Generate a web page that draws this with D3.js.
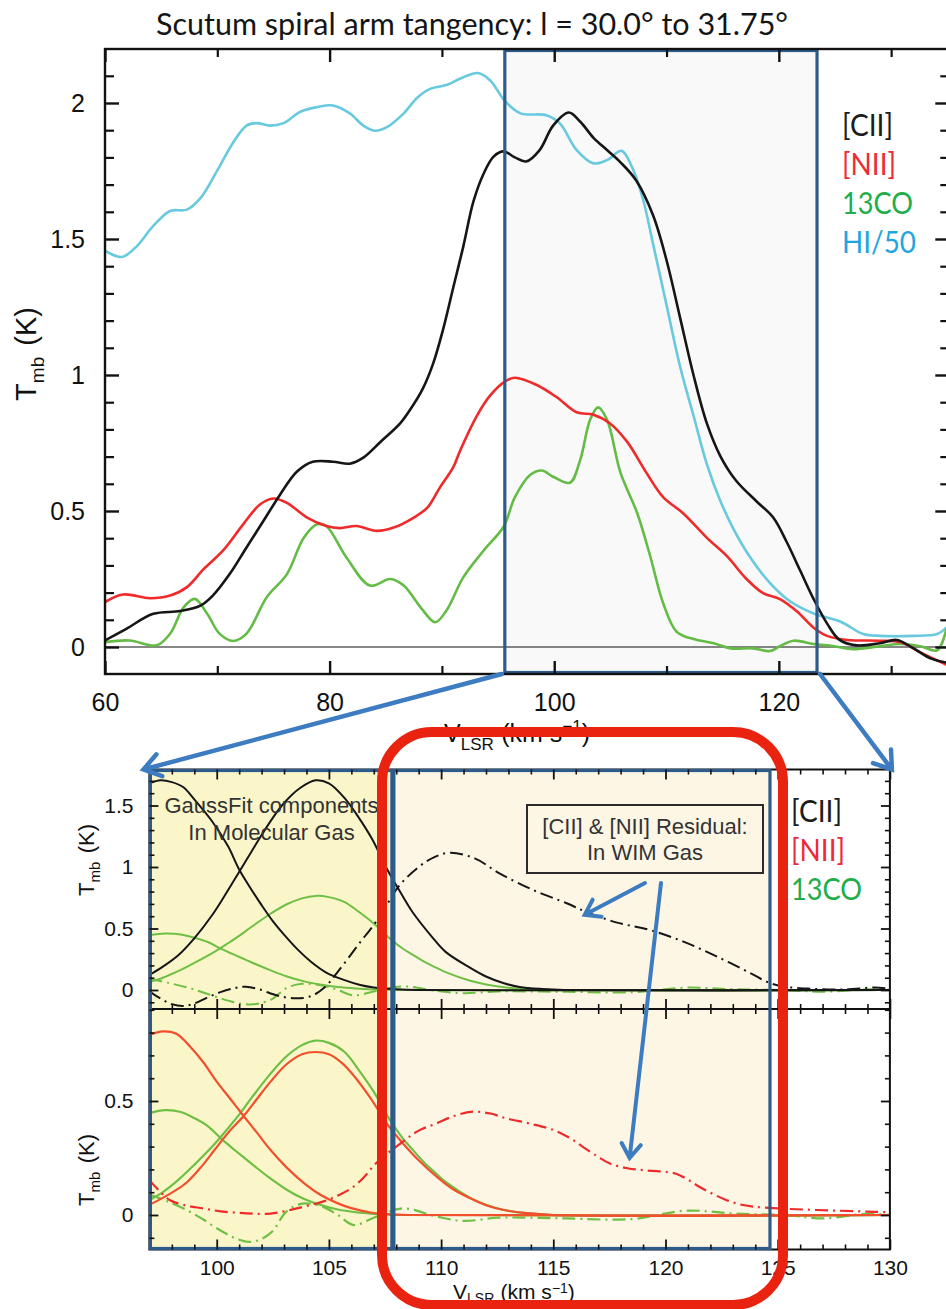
<!DOCTYPE html>
<html>
<head>
<meta charset="utf-8">
<script src="https://cdn.jsdelivr.net/npm/d3@7"></script>
<style>
  body { margin: 0; background: #fff; }
  svg { display: block; }
</style>
</head>
<body>
<svg id="fig" width="946" height="1309"></svg>
<script>
// ---------- Spectra, l = 30.0 to 31.75 deg: [velocity km/s, Tmb K] ----------
const ciiSpec = [[60.0,0.024],[61.9,0.067],[64.3,0.122],[66.7,0.132],[68.5,0.152],[69.6,0.189],[71.1,0.268],[72.6,0.366],[74.1,0.463],[75.6,0.561],[77.1,0.645],[78.5,0.681],[80.3,0.681],[81.8,0.674],[83.0,0.696],[84.5,0.753],[86.3,0.823],[87.4,0.887],[88.3,0.95],[89.2,1.04],[90.1,1.167],[91.0,1.32],[91.9,1.472],[92.8,1.637],[93.7,1.739],[94.6,1.803],[95.5,1.822],[96.5,1.80],[97.5,1.785],[98.7,1.827],[99.9,1.917],[101.3,1.965],[102.3,1.932],[103.5,1.872],[104.7,1.827],[105.9,1.782],[107.3,1.715],[108.8,1.587],[110.0,1.422],[111.2,1.212],[112.4,1.0],[113.6,0.821],[114.8,0.701],[116.2,0.611],[118.0,0.536],[119.5,0.476],[120.7,0.386],[121.9,0.281],[123.1,0.176],[124.3,0.086],[125.4,0.026],[126.9,0.006],[129.0,0.014],[130.5,0.026],[132.0,-0.005],[133.5,-0.042],[134.9,-0.057]];

const niiSpec = [[60.0,0.165],[61.6,0.193],[64.0,0.179],[65.8,0.189],[67.3,0.22],[68.8,0.287],[70.5,0.354],[72.3,0.451],[73.8,0.524],[75.0,0.546],[76.2,0.53],[78.0,0.476],[79.7,0.445],[80.9,0.437],[82.4,0.445],[84.2,0.427],[85.7,0.439],[87.5,0.476],[88.7,0.512],[89.8,0.585],[91.0,0.66],[91.6,0.72],[93.1,0.849],[94.3,0.925],[95.6,0.976],[96.5,0.99],[98.4,0.964],[100.2,0.919],[102.0,0.863],[103.5,0.854],[105.0,0.821],[106.5,0.754],[108.2,0.641],[109.7,0.551],[111.5,0.491],[113.6,0.401],[115.4,0.333],[117.1,0.251],[118.6,0.198],[120.1,0.176],[121.6,0.131],[123.1,0.071],[124.3,0.041],[126.1,0.026],[129.0,0.023],[130.8,0.018],[132.6,-0.02],[134.9,-0.065]];

const coSpec = [[60.0,0.018],[62.2,0.024],[64.6,0.006],[65.8,0.049],[67.0,0.146],[68.0,0.177],[69.1,0.122],[70.2,0.049],[71.4,0.022],[72.6,0.049],[74.4,0.183],[76.2,0.268],[77.7,0.402],[78.9,0.451],[79.7,0.445],[81.5,0.329],[83.6,0.226],[85.4,0.25],[86.6,0.226],[88.1,0.146],[89.4,0.091],[90.4,0.134],[91.9,0.256],[93.7,0.354],[95.5,0.443],[96.5,0.551],[97.9,0.634],[98.9,0.649],[99.9,0.626],[101.4,0.604],[102.3,0.686],[103.2,0.836],[103.9,0.881],[104.7,0.836],[105.9,0.641],[107.4,0.491],[108.5,0.341],[109.7,0.161],[110.9,0.056],[112.4,0.029],[114.2,0.014],[115.7,-0.005],[117.7,-0.005],[119.2,-0.015],[120.1,0.003],[121.3,0.023],[123.1,0.011],[124.9,0.003],[126.6,-0.008],[129.0,0.003],[130.8,0.011],[132.6,0.003],[134.1,-0.012],[134.9,0.063]];

const hiSpec = [[60.0,1.457],[61.5,1.434],[62.8,1.472],[64.3,1.548],[65.8,1.603],[67.3,1.608],[68.5,1.65],[70.0,1.752],[71.4,1.854],[72.6,1.917],[73.5,1.926],[74.7,1.917],[75.9,1.926],[77.4,1.968],[78.9,1.985],[80.3,1.991],[81.8,1.962],[83.0,1.917],[84.0,1.898],[85.1,1.911],[86.6,1.962],[87.8,2.019],[88.9,2.051],[90.4,2.066],[91.6,2.089],[93.2,2.11],[94.3,2.083],[95.6,2.008],[97.0,1.962],[99.3,1.955],[100.5,1.925],[102.0,1.827],[103.5,1.778],[104.7,1.79],[106.0,1.824],[106.9,1.767],[107.9,1.647],[108.8,1.482],[110.0,1.257],[111.2,1.032],[112.4,0.851],[113.6,0.671],[114.8,0.536],[116.0,0.431],[117.4,0.333],[119.2,0.236],[121.0,0.168],[123.1,0.123],[125.5,0.093],[127.5,0.048],[129.0,0.041],[132.0,0.041],[134.1,0.048],[134.9,0.07]];

// ---------- Gaussian fit components and residuals ----------
const ciiFit1 = [[97.0,1.68],[97.5,1.705],[98.0,1.69],[98.5,1.65],[99.0,1.55],[99.8,1.37],[100.5,1.17],[101.0,0.98],[101.5,0.83],[102.0,0.69],[102.5,0.56],[103.0,0.45],[103.6,0.33],[104.2,0.23],[104.9,0.14],[105.7,0.08],[106.4,0.04],[107.0,0.02],[108.0,0.006],[109.0,0],[130.0,0]];
const ciiFit2 = [[97.0,0.122],[97.6,0.19],[98.3,0.285],[99.0,0.42],[99.8,0.61],[100.4,0.78],[101.0,0.96],[101.5,1.11],[102.0,1.26],[102.5,1.40],[103.0,1.52],[103.7,1.64],[104.4,1.705],[105.0,1.68],[105.7,1.56],[106.3,1.41],[106.9,1.235],[107.6,0.98],[108.2,0.79],[108.7,0.64],[109.6,0.43],[110.2,0.31],[111.3,0.18],[112.0,0.11],[112.8,0.055],[113.5,0.025],[114.5,0.008],[115.5,0],[130.0,0]];
const coFit1 = [[97.0,0.447],[97.7,0.46],[98.4,0.452],[99.0,0.425],[99.6,0.39],[100.2,0.335],[100.8,0.285],[101.3,0.245],[101.8,0.205],[102.4,0.16],[103.1,0.112],[103.9,0.07],[104.6,0.045],[105.4,0.024],[106.2,0.012],[107.0,0.005],[108.0,0],[130.0,0]];
const coFit2 = [[97.0,0.065],[97.6,0.10],[98.3,0.155],[99.0,0.22],[99.8,0.30],[100.5,0.38],[101.0,0.44],[101.6,0.52],[102.4,0.62],[103.1,0.695],[103.8,0.745],[104.4,0.765],[105.0,0.755],[105.7,0.715],[106.3,0.64],[107.0,0.54],[107.7,0.42],[108.3,0.335],[108.7,0.29],[109.2,0.235],[109.8,0.18],[110.2,0.145],[111.3,0.075],[112.0,0.045],[112.8,0.022],[113.8,0.008],[115.0,0],[130.0,0]];
const niiFit1 = [[97.0,0.79],[97.6,0.805],[98.2,0.795],[98.8,0.74],[99.4,0.67],[100.0,0.585],[100.6,0.51],[101.2,0.434],[101.8,0.36],[102.4,0.285],[103.1,0.21],[103.9,0.139],[104.6,0.09],[105.4,0.051],[106.0,0.03],[106.8,0.012],[107.6,0.004],[108.5,0],[130.0,0]];
const niiFit2 = [[97.0,0.045],[97.6,0.075],[98.2,0.11],[98.7,0.146],[99.3,0.21],[99.9,0.285],[100.5,0.36],[101.2,0.434],[101.8,0.51],[102.4,0.585],[103.1,0.66],[103.8,0.705],[104.4,0.715],[105.0,0.705],[105.6,0.665],[106.2,0.60],[106.8,0.52],[107.7,0.385],[108.3,0.314],[109.0,0.24],[109.8,0.168],[110.5,0.115],[111.3,0.073],[112.0,0.043],[112.8,0.022],[113.8,0.008],[115.0,0],[130.0,0]];

const ciiResid = [[97.0,-0.01],[97.5,-0.07],[98.0,-0.115],[98.5,-0.13],[99.0,-0.11],[99.6,-0.06],[100.2,-0.015],[100.8,0.015],[101.3,0.027],[101.9,0.005],[102.7,-0.045],[103.5,-0.068],[104.2,-0.05],[104.8,0.02],[105.4,0.149],[106.3,0.366],[107.2,0.58],[108.1,0.84],[109.0,1.0],[109.7,1.08],[110.4,1.116],[111.5,1.07],[112.6,0.949],[114.1,0.813],[115.6,0.705],[116.4,0.64],[117.8,0.55],[119.3,0.488],[120.8,0.393],[122.3,0.271],[123.8,0.136],[124.5,0.068],[125.2,0.03],[126.5,0.01],[128.0,0.005],[129.3,0.02],[130.0,0.01]];
const niiResid = [[97.0,0.153],[97.5,0.1],[97.9,0.066],[98.6,0.042],[99.4,0.029],[100.1,0.017],[100.9,0.01],[101.6,0.006],[102.4,0.006],[103.1,0.018],[103.9,0.037],[104.8,0.061],[105.5,0.09],[106.1,0.124],[106.6,0.17],[107.1,0.227],[108.3,0.322],[109.0,0.37],[109.8,0.402],[110.6,0.435],[111.4,0.453],[112.2,0.445],[112.9,0.424],[114.0,0.40],[115.0,0.373],[115.7,0.34],[116.3,0.3],[117.0,0.255],[117.5,0.227],[118.3,0.205],[119.2,0.195],[120.4,0.183],[121.0,0.155],[121.5,0.124],[122.1,0.093],[122.7,0.066],[123.3,0.047],[123.9,0.037],[125.0,0.029],[126.7,0.022],[129.0,0.015],[130.0,0.012]];
const coResid = [[97.0,0.09],[97.8,0.06],[98.7,0.02],[99.4,-0.02],[100.2,-0.07],[100.9,-0.105],[101.5,-0.118],[102.0,-0.105],[102.5,-0.07],[103.1,0.015],[103.8,0.05],[104.7,0.037],[105.4,0.0],[106.1,-0.044],[107.1,-0.008],[108.3,0.029],[109.8,-0.007],[111.0,-0.026],[112.5,-0.012],[114.0,-0.012],[115.6,-0.015],[118.5,-0.018],[120.9,0.019],[123.1,0.006],[125.4,-0.001],[127.0,-0.015],[129.0,0.006],[130.0,0.0]];

// ---------- velocity windows, labels, ticks ----------
const tangentWindow = [95.6, 123.4];   // zoomed range marked on the full spectrum
const molecularRange = [97, 107.85];   // fit components dominate
const wimRange = [107.85, 124.7];      // residual emission
const topLegend = ["[CII]", "[NII]", "13CO", "HI/50"];
const bottomLegend = ["[CII]", "[NII]", "13CO"];
const topXMajor = [60, 80, 100, 120];
const topXMinor = [70, 90, 110, 130];
const topYMajor = [0, 0.5, 1, 1.5, 2];
const botXMajor = [100, 105, 110, 115, 120, 125, 130];
const upperYMajor = [0, 0.5, 1, 1.5];
const lowerYMajor = [0, 0.5];
const titleText = "Scutum spiral arm tangency: l = 30.0\u00B0 to 31.75\u00B0";

// ---------- styling ----------
const C = {
  cii: "#161616", nii: "#ef2a2a", co: "#64bb45", hi: "#68c9df",
  niiFit: "#f2502c", coFit: "#6fbf45", frame: "#111",
  winStroke: "#2d5b8b", winFill: "#f9f9f9",
  molFill: "#faf6c9", wimFill: "#fdf6e5",
  arrow: "#3d7cc1", ring: "#ea2310",
  legCii: "#1c1c1c", legNii: "#ee2a36", legCo: "#21ad4b", legHi: "#1fa6de"
};
const SANS = "'Liberation Sans', Arial, Helvetica, sans-serif";
const CAL = "Lato, 'Open Sans', sans-serif";

const svg = d3.select("#fig");
const defs = svg.append("defs");

// ================= upper figure: full spectra =================
const T = { x0: 105, x1: 947.3, y0: 49, y1: 674 };
const xT = d3.scaleLinear().domain([60, 135]).range([T.x0, T.x1]);
const yT = d3.scaleLinear().domain([0, 2]).range([647, 103]);

defs.append("clipPath").attr("id", "clipTop").append("rect")
  .attr("x", T.x0).attr("y", T.y0).attr("width", T.x1 - T.x0).attr("height", T.y1 - T.y0);

const gTop = svg.append("g");
gTop.append("rect")
  .attr("x", xT(tangentWindow[0])).attr("y", T.y0 + 1.5)
  .attr("width", xT(tangentWindow[1]) - xT(tangentWindow[0])).attr("height", T.y1 - T.y0 - 3)
  .attr("fill", C.winFill);

gTop.append("line")
  .attr("x1", T.x0).attr("x2", T.x1).attr("y1", yT(0)).attr("y2", yT(0))
  .attr("stroke", "#111").attr("stroke-width", 1.2);

const lineTop = d3.line().x(d => xT(d[0])).y(d => yT(d[1])).curve(d3.curveCatmullRom.alpha(0.5));
const gCurves = gTop.append("g").attr("clip-path", "url(#clipTop)");
[[hiSpec, C.hi], [coSpec, C.co], [niiSpec, C.nii], [ciiSpec, C.cii]].forEach(([data, col]) => {
  gCurves.append("path").datum(data).attr("d", lineTop)
    .attr("fill", "none").attr("stroke", col).attr("stroke-width", 2.6)
    .attr("stroke-linejoin", "round").attr("stroke-linecap", "round");
});

gTop.append("rect")
  .attr("x", xT(tangentWindow[0])).attr("y", T.y0 + 1.5)
  .attr("width", xT(tangentWindow[1]) - xT(tangentWindow[0])).attr("height", T.y1 - T.y0 - 3)
  .attr("fill", "none").attr("stroke", C.winStroke).attr("stroke-width", 3.2);

gTop.append("rect")
  .attr("x", T.x0).attr("y", T.y0).attr("width", T.x1 - T.x0).attr("height", T.y1 - T.y0)
  .attr("fill", "none").attr("stroke", C.frame).attr("stroke-width", 2.4);

function addAxis(g, axis, values, size, opts = {}) {
  axis.tickValues(values).tickSize(size).tickPadding(opts.pad || 3)
    .tickFormat(opts.fmt || (() => ""));
  g.call(axis);
  g.select(".domain").remove();
  g.selectAll(".tick line").attr("stroke", C.frame).attr("stroke-width", opts.sw || 2);
  g.selectAll(".tick text").attr("fill", "#111")
    .style("font-family", SANS).style("font-size", (opts.fs || 20) + "px");
  return g;
}
const fmtK = d3.format("~g");
const minorVals = (lo, hi) => d3.range(lo, hi + 1).map(i => i / 10).filter(v => Math.abs(v * 2 - Math.round(v * 2)) > 1e-6);

addAxis(gTop.append("g").attr("transform", `translate(0,${T.y1})`), d3.axisBottom(xT), topXMajor, -13, { fmt: d3.format("d"), pad: 19, fs: 25, sw: 2.4 });
addAxis(gTop.append("g").attr("transform", `translate(0,${T.y1})`), d3.axisBottom(xT), topXMinor, -8, { sw: 2.2 });
addAxis(gTop.append("g").attr("transform", `translate(0,${T.y0})`), d3.axisTop(xT), topXMajor, -13, { sw: 2.4 });
addAxis(gTop.append("g").attr("transform", `translate(0,${T.y0})`), d3.axisTop(xT), topXMinor, -8, { sw: 2.2 });
addAxis(gTop.append("g").attr("transform", `translate(${T.x0},0)`), d3.axisLeft(yT), topYMajor, -14, { fmt: fmtK, pad: 20, fs: 25, sw: 2.4 });
addAxis(gTop.append("g").attr("transform", `translate(${T.x0},0)`), d3.axisLeft(yT), minorVals(0, 21), -9, { sw: 2.2 });
addAxis(gTop.append("g").attr("transform", `translate(${T.x1},0)`), d3.axisRight(yT), topYMajor, -12, { sw: 2.4 });
addAxis(gTop.append("g").attr("transform", `translate(${T.x1},0)`), d3.axisRight(yT), minorVals(0, 21), -7, { sw: 2.2 });

// axis titles
function yTitle(g, x, y, fs, sub) {
  const t = g.append("text").attr("transform", `translate(${x},${y}) rotate(-90)`)
    .attr("text-anchor", "middle").style("font-family", SANS).style("font-size", fs + "px").attr("fill", "#111");
  t.append("tspan").text("T");
  t.append("tspan").text("mb").style("font-size", sub + "px").attr("dy", sub * 0.42);
  t.append("tspan").text("(K)").attr("dx", fs * 0.38).attr("dy", -sub * 0.42);
}
function xTitle(g, x, y, fs, sub, drop, rise) {
  const t = g.append("text").attr("x", x).attr("y", y)
    .style("font-family", SANS).style("font-size", fs + "px").attr("fill", "#111");
  t.append("tspan").text("V");
  t.append("tspan").text("LSR").style("font-size", sub + "px").attr("dy", drop);
  t.append("tspan").text("(km  s").attr("dx", fs * 0.3).attr("dy", -drop);
  t.append("tspan").text("\u22121").style("font-size", sub + "px").attr("dy", -rise);
  t.append("tspan").text(")").attr("dy", rise);
}
yTitle(gTop, 36, 354, 29, 19);
xTitle(gTop, 444, 742, 25, 17, 7.5, 10);

// title
svg.append("text").attr("x", 156).attr("y", 35).text(titleText)
  .style("font-family", CAL).style("font-size", "31px").attr("fill", "#151515")
  .attr("textLength", 632).attr("lengthAdjust", "spacingAndGlyphs");

// legend of the full spectra
const topLegCol = [C.legCii, C.legNii, C.legCo, C.legHi];
const topLegW = { "[CII]": 51, "[NII]": 54, "13CO": 71, "HI/50": 74 };
topLegend.forEach((s, i) => {
  svg.append("text").attr("x", 842).attr("y", 136 + i * 39).text(s)
    .style("font-family", CAL).style("font-size", "31px").attr("fill", topLegCol[i])
    .attr("textLength", topLegW[s]).attr("lengthAdjust", "spacingAndGlyphs");
});

// ================= lower figure: decomposition =================
const B = { x0: 149.4, x1: 889.9, yTop: 769.5, yMid: 1009, yBot: 1249.5 };
const xB = d3.scaleLinear().domain([97, 130]).range([B.x0, B.x1]);
const yU = d3.scaleLinear().domain([0, 1.5]).range([990, 805.5]);
const yL = d3.scaleLinear().domain([0, 0.5]).range([1215, 1101]);

defs.append("clipPath").attr("id", "clipU").append("rect")
  .attr("x", B.x0).attr("y", B.yTop).attr("width", B.x1 - B.x0).attr("height", B.yMid - B.yTop);
defs.append("clipPath").attr("id", "clipL").append("rect")
  .attr("x", B.x0).attr("y", B.yMid).attr("width", B.x1 - B.x0).attr("height", B.yBot - B.yMid);

const gBot = svg.append("g");
gBot.append("rect").attr("x", xB(molecularRange[0])).attr("y", B.yTop)
  .attr("width", xB(molecularRange[1]) - xB(molecularRange[0])).attr("height", B.yBot - B.yTop)
  .attr("fill", C.molFill);
gBot.append("rect").attr("x", xB(wimRange[0])).attr("y", B.yTop)
  .attr("width", xB(wimRange[1]) - xB(wimRange[0])).attr("height", B.yBot - B.yTop)
  .attr("fill", C.wimFill);

const lineU = d3.line().x(d => xB(d[0])).y(d => yU(d[1])).curve(d3.curveCatmullRom.alpha(0.5));
const lineL = d3.line().x(d => xB(d[0])).y(d => yL(d[1])).curve(d3.curveCatmullRom.alpha(0.5));
const dashDot = "13,5,2,5";

const gU = gBot.append("g").attr("clip-path", "url(#clipU)");
[[coResid, C.coFit, dashDot], [coFit1, C.coFit, null], [coFit2, C.coFit, null],
 [ciiFit1, C.cii, null], [ciiFit2, C.cii, null], [ciiResid, C.cii, dashDot]].forEach(([d, col, dash]) => {
  gU.append("path").datum(d).attr("d", lineU).attr("fill", "none")
    .attr("stroke", col).attr("stroke-width", 2).attr("stroke-dasharray", dash);
});

const gL = gBot.append("g").attr("clip-path", "url(#clipL)");
[[coResid, C.coFit, dashDot], [coFit1, C.coFit, null], [coFit2, C.coFit, null],
 [niiFit1, C.niiFit, null], [niiFit2, C.niiFit, null], [niiResid, C.nii, dashDot]].forEach(([d, col, dash]) => {
  gL.append("path").datum(d).attr("d", lineL).attr("fill", "none")
    .attr("stroke", col).attr("stroke-width", 2.2).attr("stroke-dasharray", dash);
});

// frame
gBot.append("rect").attr("x", B.x0).attr("y", B.yTop).attr("width", B.x1 - B.x0).attr("height", B.yBot - B.yTop)
  .attr("fill", "none").attr("stroke", C.frame).attr("stroke-width", 2);
gBot.append("line").attr("x1", B.x0).attr("x2", B.x1).attr("y1", B.yMid).attr("y2", B.yMid)
  .attr("stroke", C.frame).attr("stroke-width", 2);

// velocity window outlines
[molecularRange, wimRange].forEach(r => {
  gBot.append("rect").attr("x", xB(r[0]) + 1).attr("y", B.yTop + 1)
    .attr("width", xB(r[1]) - xB(r[0]) - 2).attr("height", B.yBot - B.yTop - 2)
    .attr("fill", "none").attr("stroke", C.winStroke).attr("stroke-width", 3.2);
});

// ticks of the decomposition panels
const botXMinor = d3.range(98, 130).filter(v => v % 5 !== 0);
[[B.yTop, d3.axisTop, -10, -5], [B.yMid, d3.axisBottom, -10, -5], [B.yMid, d3.axisTop, -10, -5]].forEach(([y, ax, big, small]) => {
  addAxis(gBot.append("g").attr("transform", `translate(0,${y})`), ax(xB), botXMajor, big, { sw: 1.8 });
  addAxis(gBot.append("g").attr("transform", `translate(0,${y})`), ax(xB), botXMinor, small, { sw: 1.6 });
});
addAxis(gBot.append("g").attr("transform", `translate(0,${B.yBot})`), d3.axisBottom(xB), botXMajor, -10, { fmt: d3.format("d"), pad: 11, fs: 21, sw: 1.8 });
addAxis(gBot.append("g").attr("transform", `translate(0,${B.yBot})`), d3.axisBottom(xB), botXMinor, -5, { sw: 1.6 });

addAxis(gBot.append("g").attr("transform", `translate(${B.x0},0)`), d3.axisLeft(yU), upperYMajor, -9, { fmt: fmtK, pad: 16, fs: 21, sw: 1.8 });
addAxis(gBot.append("g").attr("transform", `translate(${B.x0},0)`), d3.axisLeft(yU), minorVals(-1, 17), -5, { sw: 1.6 });
addAxis(gBot.append("g").attr("transform", `translate(${B.x1},0)`), d3.axisRight(yU), upperYMajor, -9, { sw: 1.8 });
addAxis(gBot.append("g").attr("transform", `translate(${B.x1},0)`), d3.axisRight(yU), minorVals(-1, 17), -5, { sw: 1.6 });

addAxis(gBot.append("g").attr("transform", `translate(${B.x0},0)`), d3.axisLeft(yL), lowerYMajor, -9, { fmt: fmtK, pad: 16, fs: 21, sw: 1.8 });
addAxis(gBot.append("g").attr("transform", `translate(${B.x0},0)`), d3.axisLeft(yL), minorVals(-1, 9), -5, { sw: 1.6 });
addAxis(gBot.append("g").attr("transform", `translate(${B.x1},0)`), d3.axisRight(yL), lowerYMajor, -9, { sw: 1.8 });
addAxis(gBot.append("g").attr("transform", `translate(${B.x1},0)`), d3.axisRight(yL), minorVals(-1, 9), -5, { sw: 1.6 });

yTitle(gBot, 94, 860, 22, 15);
yTitle(gBot, 94, 1170, 22, 15);
xTitle(gBot, 453, 1299, 21, 14, 4, 6.5);

// annotations inside the panels
const note = (x, y, s) => gBot.append("text").attr("x", x).attr("y", y).attr("text-anchor", "middle")
  .style("font-family", SANS).style("font-size", "22px").attr("fill", "#333").text(s);
note(271.5, 813, "GaussFit components");
note(271.5, 840, "In Molecular Gas");
gBot.append("rect").attr("x", 527).attr("y", 805).attr("width", 236).attr("height", 68)
  .attr("fill", C.wimFill).attr("stroke", "#2a2a2a").attr("stroke-width", 2);
note(645, 834, "[CII] & [NII] Residual:");
note(645, 860, "In WIM Gas");

const botLegCol = [C.legCii, C.legNii, C.legCo];
const botLegW = { "[CII]": 51, "[NII]": 54, "13CO": 71 };
bottomLegend.forEach((s, i) => {
  svg.append("text").attr("x", 791).attr("y", 822 + i * 39).text(s)
    .style("font-family", CAL).style("font-size", "31px").attr("fill", botLegCol[i])
    .attr("textLength", botLegW[s]).attr("lengthAdjust", "spacingAndGlyphs");
});

// ================= connecting arrows =================
function arrow(x1, y1, x2, y2, head, w) {
  const a = Math.atan2(y1 - y2, x1 - x2), sp = 0.6;
  const p = d3.path();
  p.moveTo(x1, y1); p.lineTo(x2, y2);
  p.moveTo(x2 + head * Math.cos(a + sp), y2 + head * Math.sin(a + sp));
  p.lineTo(x2, y2);
  p.lineTo(x2 + head * Math.cos(a - sp), y2 + head * Math.sin(a - sp));
  svg.append("path").attr("d", p.toString()).attr("fill", "none")
    .attr("stroke", C.arrow).attr("stroke-width", w).attr("stroke-linecap", "round").attr("stroke-linejoin", "miter");
}
arrow(xT(tangentWindow[0]) - 3, T.y1, xB(97) - 6, B.yTop, 20, 4.5);
arrow(xT(tangentWindow[1]) + 3, T.y1, xB(130) + 2, B.yTop, 20, 4.5);
arrow(645, 883, xB(116.4), yU(0.62) + 1, 17, 4);
arrow(661, 883, xB(118.4), yL(0.25), 17, 4);

// highlight of the residual window
svg.append("rect").attr("x", 382).attr("y", 732).attr("width", 401).attr("height", 573)
  .attr("rx", 50).attr("ry", 50).attr("fill", "none")
  .attr("stroke", C.ring).attr("stroke-width", 10);
</script>
</body>
</html>
